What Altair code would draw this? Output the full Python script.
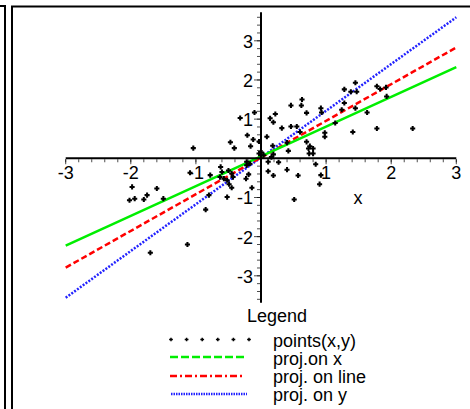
import altair as alt
import pandas as pd

# ---------------- data ----------------
pt_x = [-1.04, -1.09, -0.78, -1.98, -2.02, -1.94, -1.80, -1.75, -1.60, -1.50,
        -0.80, -0.85, -1.70, -1.13, -0.62, -0.60, -0.63, -0.57, -0.50, -0.45,
        -0.43, -0.52, -0.49, -0.45, -0.52, -0.19, -0.14, -0.22, -0.17, -0.22,
        -0.32, -0.10, -0.21, -0.12, -0.03, -0.16, -0.47, -0.41, -0.03, 0.01,
        0.04, 0.14, 0.22, 0.19, 0.32, 0.46, 0.63, 0.62, 0.70, 0.92,
        0.93, 0.46, 0.55, 0.60, 0.09, 0.18, 0.40, 0.42, 0.70, 0.75,
        0.73, 0.80, 0.74, 0.80, 0.98, 0.98, 1.14, 1.24, 1.28, 1.28,
        1.38, 1.47, 1.45, 1.45, 1.63, 1.78, 1.83, 1.92, 1.93, 1.41,
        1.78, 2.33, 0.16, 0.19, 0.11, 0.11, 0.19, 0.27, 0.40, 0.57,
        0.84, 0.92, 0.90, 0.51, -0.23]
pt_y = [0.26, -0.37, -0.43, -0.73, -1.07, -1.03, -1.05, -0.94, -0.77, -1.03,
        -0.94, -1.31, -2.41, -2.20, -0.22, -0.35, -0.48, -0.52, -0.31, -0.39,
        -0.48, -0.56, -0.66, -0.75, -0.99, -0.41, -0.75, -0.09, -0.14, -0.18,
        1.03, 1.17, 0.59, 0.48, 0.43, 0.31, 0.41, 0.26, 0.12, 0.15,
        0.08, 1.02, 1.13, 0.92, 0.77, 1.35, 1.50, 1.35, 1.16, 1.28,
        1.17, 0.81, 0.81, 0.67, 0.55, 0.32, 0.40, 0.19, 0.42, 0.31,
        0.25, 0.25, 0.12, 0.12, 0.65, 0.55, 0.90, 1.24, 1.41, 1.76,
        1.70, 1.70, 1.93, 1.28, 1.17, 1.84, 1.77, 1.81, 1.58, 0.67,
        0.76, 0.76, 0.03, 0.10, -0.09, -0.33, -0.44, -0.10, -0.29, -0.44,
        -0.15, -0.43, -0.66, -1.05, -0.52]

line_x = [-3, 3]
green_y = [-2.23, 2.33]   # proj.on x
red_y = [-2.79, 2.83]     # proj. on line
blue_y = [-3.56, 3.60]    # proj. on y

x_tick_labels = ["-3", "-2", "-1", "1", "2", "3"]
x_tick_vals = [-3, -2, -1, 1, 2, 3]
y_tick_labels = ["-3", "-2", "-1", "1", "2", "3"]
y_tick_vals = [-3, -2, -1, 1, 2, 3]
x_axis_range = [-3, 3]
y_axis_range = [-3.69, 3.73]
x_minor = [round(-3 + 0.2 * i, 1) for i in range(31)]
y_minor = [round(-3.6 + 0.2 * i, 1) for i in range(37)]

legend_title = "Legend"
legend_labels = ["points(x,y)", "proj.on x", "proj. on line", "proj. on y"]
axis_title = "x"

# ---------------- layout ----------------
W, H = 470, 409
FONT = "Liberation Sans"
xs = alt.Scale(domain=[-4.0092, 3.2104], nice=False, zero=False)
ys = alt.Scale(domain=[-6.4003, 4.0414], nice=False, zero=False)


def X(f):
    return alt.X(f, type="quantitative", scale=xs, axis=None)


def Y(f):
    return alt.Y(f, type="quantitative", scale=ys, axis=None)


pts = pd.DataFrame({"x": pt_x, "y": pt_y})
points = alt.Chart(pts).mark_point(shape="cross", filled=True, size=26,
                                   color="black", opacity=1).encode(x=X("x"), y=Y("y"))


def line(yvals, color, dash, width):
    df = pd.DataFrame({"x": line_x, "y": yvals})
    kw = dict(color=color, strokeWidth=width)
    if dash:
        kw["strokeDash"] = dash
    return alt.Chart(df).mark_line(**kw).encode(x=X("x"), y=Y("y"))


g_line = line(green_y, "#00ee00", None, 2.5)
r_line = line(red_y, "#ff0000", [6, 3], 2.5)
b_line = line(blue_y, "#2222ff", [2, 1.5], 2.5)

# axes
xaxis = alt.Chart(pd.DataFrame({"a": [x_axis_range[0]], "b": [x_axis_range[1]], "y": [0]})).mark_rule(
    color="black", strokeWidth=2).encode(x=X("a"), x2="b:Q", y=Y("y"))
yaxis = alt.Chart(pd.DataFrame({"a": [y_axis_range[0]], "b": [y_axis_range[1]], "x": [0]})).mark_rule(
    color="black", strokeWidth=2).encode(y=Y("a"), y2="b:Q", x=X("x"))

xminor = alt.Chart(pd.DataFrame({"v": x_minor, "z": [0] * len(x_minor)})).mark_tick(
    orient="vertical", size=3, thickness=1, yOffset=2.5, color="black").encode(x=X("v"), y=Y("z"))
xmajor = alt.Chart(pd.DataFrame({"v": x_tick_vals, "z": [0] * len(x_tick_vals)})).mark_tick(
    orient="vertical", size=5, thickness=1, yOffset=3.5, color="black").encode(x=X("v"), y=Y("z"))
yminor = alt.Chart(pd.DataFrame({"v": y_minor, "z": [0] * len(y_minor)})).mark_tick(
    orient="horizontal", size=3, thickness=1, xOffset=-2.5, color="black").encode(y=Y("v"), x=X("z"))
ymajor = alt.Chart(pd.DataFrame({"v": y_tick_vals, "z": [0] * len(y_tick_vals)})).mark_tick(
    orient="horizontal", size=6, thickness=1, xOffset=-4, color="black").encode(y=Y("v"), x=X("z"))

xlabels = alt.Chart(pd.DataFrame({"v": x_tick_vals, "z": [0] * 6, "t": x_tick_labels})).mark_text(
    font=FONT, fontSize=18, align="center", baseline="middle", dy=15.5, color="black").encode(
    x=X("v"), y=Y("z"), text="t:N")
ylabels = alt.Chart(pd.DataFrame({"v": y_tick_vals, "z": [0] * 6, "t": y_tick_labels})).mark_text(
    font=FONT, fontSize=18, align="right", baseline="middle", dx=-8, dy=2, color="black").encode(
    y=Y("v"), x=X("z"), text="t:N")

xtitle = alt.Chart(pd.DataFrame({"t": [axis_title]})).mark_text(
    font=FONT, fontSize=18, align="center", baseline="middle", color="black").encode(
    x=alt.value(358), y=alt.value(199), text="t:N")

# legend
leg_title = alt.Chart(pd.DataFrame({"t": [legend_title]})).mark_text(
    font=FONT, fontSize=18, align="center", baseline="middle", color="black").encode(
    x=alt.value(277), y=alt.value(317), text="t:N")
leg_text = alt.Chart(pd.DataFrame({"t": legend_labels, "i": list(range(len(legend_labels)))})).transform_calculate(
    py="341.5 + 18.1 * datum.i").mark_text(
    font=FONT, fontSize=18, align="left", baseline="middle", color="black").encode(
    x=alt.value(273), y=alt.Y("py:Q", scale=None, axis=None), text="t:N")
leg_pts = alt.Chart(pd.DataFrame({"i": list(range(6))})).transform_calculate(
    px="171 + 15.6 * datum.i").mark_point(shape="cross", filled=True, size=14, color="black", opacity=1).encode(
    x=alt.X("px:Q", scale=None, axis=None), y=alt.value(339.5))
leg_g = alt.Chart(pd.DataFrame({"a": [0]})).mark_rule(color="#00ee00", strokeWidth=2.5, strokeDash=[8, 3]).encode(
    x=alt.value(170), x2=alt.value(247), y=alt.value(357))
leg_r = alt.Chart(pd.DataFrame({"a": [0]})).mark_rule(color="#ff0000", strokeWidth=2.5, strokeDash=[7, 3, 2, 3]).encode(
    x=alt.value(170), x2=alt.value(245), y=alt.value(376))
leg_b = alt.Chart(pd.DataFrame({"a": [0]})).mark_rule(color="#2222ff", strokeWidth=2.5, strokeDash=[1.5, 1]).encode(
    x=alt.value(171), x2=alt.value(247), y=alt.value(394))

# surrounding table frame
def frule(x1, y1, x2, y2):
    return alt.Chart(pd.DataFrame({"a": [0]})).mark_rule(color="black", strokeWidth=2).encode(
        x=alt.value(x1), y=alt.value(y1), x2=alt.value(x2), y2=alt.value(y2))


frame = [frule(5, 6, 5, H), frule(12, 6, 12, H), frule(11, 6.5, W, 6.5), frule(0, 6, 6, 6)]

chart = alt.layer(
    *frame, b_line, r_line, g_line, xaxis, yaxis, xminor, xmajor, yminor, ymajor,
    points, xlabels, ylabels, xtitle, leg_title, leg_text, leg_pts, leg_g, leg_r, leg_b
).resolve_scale(x="independent", y="independent").properties(
    width=W, height=H, autosize=alt.AutoSizeParams(type="none"), padding=0,
    background="white"
).configure_view(stroke=None)

chart.save("out.html", embed_options={"renderer": "svg", "actions": False})
